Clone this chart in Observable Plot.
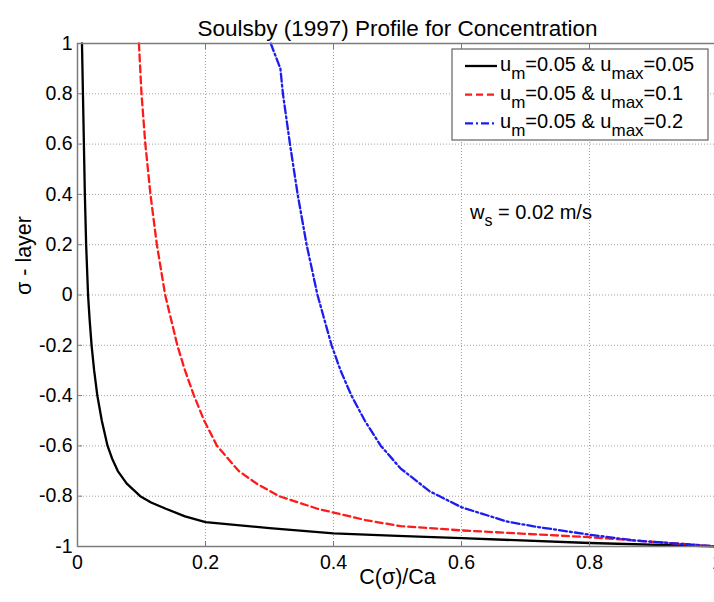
<!DOCTYPE html>
<html>
<head>
<meta charset="utf-8">
<script src="https://cdn.jsdelivr.net/npm/d3@7"></script>
<script src="https://cdn.jsdelivr.net/npm/@observablehq/plot@0.6"></script>
<style>
  html, body { margin: 0; padding: 0; background: #fff; overflow: hidden; }
  #wrap { position: relative; width: 714px; height: 602px; overflow: hidden; }
</style>
</head>
<body>
<div id="wrap"></div>
<script>
// ---------- data ----------
const title = "Soulsby (1997) Profile for Concentration";
const xLabel = "C(σ)/Ca";
const yLabel = "σ - layer";
const xTicks = [0, 0.2, 0.4, 0.6, 0.8, 1];
const yTicks = [-1, -0.8, -0.6, -0.4, -0.2, 0, 0.2, 0.4, 0.6, 0.8, 1];

// series 1: u_m = 0.05 & u_max = 0.05 (black, solid)
const c1 = [0.007, 0.0085, 0.010, 0.0115, 0.0135, 0.0165, 0.019, 0.022, 0.026, 0.031, 0.038, 0.047, 0.054, 0.063, 0.077, 0.098, 0.115, 0.138, 0.168, 0.200, 0.300, 0.400, 0.500, 0.600, 0.800, 1.000];
const s1 = [1, 0.8, 0.6, 0.4, 0.2, 0, -0.1, -0.2, -0.3, -0.4, -0.5, -0.6, -0.65, -0.7, -0.75, -0.8, -0.825, -0.85, -0.88, -0.903, -0.927, -0.948, -0.958, -0.967, -0.986, -1];

// series 2: u_m = 0.05 & u_max = 0.1 (red, dashed)
const c2 = [0.096, 0.100, 0.106, 0.114, 0.124, 0.137, 0.156, 0.168, 0.182, 0.198, 0.218, 0.252, 0.280, 0.315, 0.375, 0.450, 0.505, 0.600, 0.800, 1.000];
const s2 = [1, 0.8, 0.6, 0.4, 0.2, 0, -0.2, -0.3, -0.4, -0.5, -0.6, -0.7, -0.75, -0.8, -0.85, -0.895, -0.919, -0.936, -0.963, -1];

// series 3: u_m = 0.05 & u_max = 0.2 (blue, dash-dot)
const c3 = [0.302, 0.317, 0.321, 0.332, 0.344, 0.358, 0.375, 0.397, 0.411, 0.428, 0.449, 0.474, 0.505, 0.550, 0.600, 0.670, 0.713, 0.800, 0.870, 1.000];
const s3 = [1, 0.9, 0.8, 0.6, 0.4, 0.2, 0, -0.2, -0.3, -0.4, -0.5, -0.6, -0.69, -0.78, -0.844, -0.9, -0.92, -0.953, -0.976, -1];

const seriesUm = ["0.05", "0.05", "0.05"];
const seriesUmax = ["0.05", "0.1", "0.2"];
const noteName = "w";
const noteSub = "s";
const noteValue = " = 0.02 m/s";
const noteX = 0.614, noteY = 0.30;

// ---------- build table ----------
const rows = [];
[[c1, s1], [c2, s2], [c3, s3]].forEach(([cs, ss], k) => {
  cs.forEach((c, i) => rows.push({k, c, s: ss[i]}));
});

const FONT = '"Liberation Sans", Arial, Helvetica, sans-serif';
const fmt = d => `${Math.round(d * 10) / 10}`;
const gridStyle = {stroke: "#a0a0a0", strokeOpacity: 1, strokeWidth: 1, strokeDasharray: "1,2"};
const styles = [
  {stroke: "#000000", strokeWidth: 2.3},
  {stroke: "#ff1a1a", strokeWidth: 2.3, strokeDasharray: "7,4"},
  {stroke: "#1c1cf0", strokeWidth: 2.3, strokeDasharray: "8,3,2,3"}
];

const chart = Plot.plot({
  width: 714,
  height: 602,
  marginLeft: 77,
  marginRight: -3,
  marginTop: 43,
  marginBottom: 56,
  style: {fontFamily: FONT, fontSize: "19px", color: "#000", background: "#fff"},
  x: {domain: [0, 1]},
  y: {domain: [-1, 1]},
  marks: [
    Plot.gridX(xTicks, gridStyle),
    Plot.gridY(yTicks, gridStyle),
    ...styles.map((st, k) => Plot.line(rows.filter(d => d.k === k), {x: "c", y: "s", strokeLinejoin: "round", ...st})),
    Plot.frame({stroke: "#7c7c7c", strokeWidth: 1.5}),
    Plot.axisX(xTicks, {anchor: "bottom", tickSize: -5, tickPadding: 14, tickFormat: fmt, label: null, stroke: "#7c7c7c", fontSize: 19.5}),
    Plot.axisX(xTicks, {anchor: "top", tickSize: -5, tickFormat: () => "", label: null, stroke: "#7c7c7c"}),
    Plot.axisY(yTicks, {anchor: "left", tickSize: -5, tickPadding: 10, tickFormat: fmt, label: null, stroke: "#7c7c7c", fontSize: 19.5}),
    Plot.text([title], {frameAnchor: "top", dy: -23, fontSize: 22.5}),
    Plot.text([xLabel], {frameAnchor: "bottom", dy: 37, fontSize: 21.5}),
    Plot.text([yLabel], {frameAnchor: "left", dx: -53, rotate: -90, fontSize: 21.5})
  ]
});

document.getElementById("wrap").appendChild(chart);

// ---------- legend and note ----------
const svg = d3.select(chart);
const sx = chart.scale("x"), sy = chart.scale("y");
const g = svg.append("g").attr("font-family", FONT).attr("fill", "#000").attr("text-anchor", "start");
const L = {x: 452, y: 49, w: 256, h: 91, row: 28.7, lineX0: 465, lineX1: 497, textX: 500};
g.append("rect")
  .attr("x", L.x).attr("y", L.y).attr("width", L.w).attr("height", L.h)
  .attr("fill", "#fff").attr("stroke", "#6e6e6e").attr("stroke-width", 1.3);
styles.forEach((st, i) => {
  const ly = L.y + 17 + i * L.row;
  g.append("line")
    .attr("x1", L.lineX0).attr("x2", L.lineX1).attr("y1", ly).attr("y2", ly)
    .attr("stroke", st.stroke).attr("stroke-width", st.strokeWidth)
    .attr("stroke-dasharray", st.strokeDasharray || null);
  const t = g.append("text").attr("x", L.textX).attr("y", ly + 5).attr("font-size", 20);
  t.append("tspan").text("u");
  t.append("tspan").attr("dy", 8).attr("font-size", 17).text("m");
  t.append("tspan").attr("dy", -8).text(`=${seriesUm[i]} & u`);
  t.append("tspan").attr("dy", 8).attr("font-size", 17).text("max");
  t.append("tspan").attr("dy", -8).text(`=${seriesUmax[i]}`);
});
const note = g.append("text").attr("x", sx.apply(noteX)).attr("y", sy.apply(noteY)).attr("font-size", 20);
note.append("tspan").text(noteName);
note.append("tspan").attr("dy", 7).attr("font-size", 16).text(noteSub);
note.append("tspan").attr("dy", -7).text(noteValue);
</script>
</body>
</html>
